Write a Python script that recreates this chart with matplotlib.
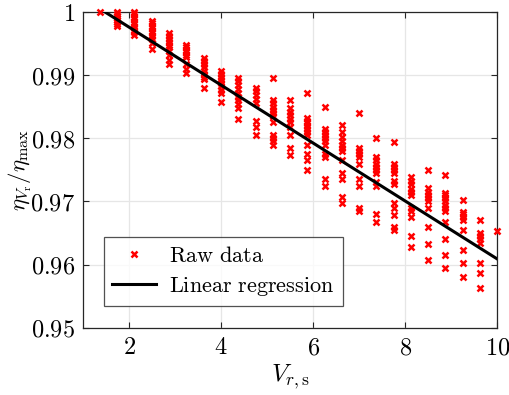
import matplotlib
matplotlib.use("Agg")
import matplotlib.pyplot as plt
import numpy as np

# ---- data ----
vrs = [1.36, 1.74, 2.11, 2.49, 2.86, 3.24, 3.62, 4.00, 4.37, 4.75, 5.12, 5.50,
       5.87, 6.25, 6.62, 7.00, 7.37, 7.75, 8.12, 8.50, 8.87, 9.25, 9.62, 10.00]
eta = [
    [1.0],
    [1.0, 0.9997, 0.9994, 0.9990, 0.9987, 0.9984, 0.9980, 0.9977],
    [1.0, 0.9996, 0.9992, 0.9988, 0.9984, 0.9980, 0.9976, 0.9972, 0.9968, 0.9964],
    [0.9986, 0.9982, 0.9978, 0.9974, 0.9970, 0.9966, 0.9962, 0.9957, 0.9950, 0.9942],
    [0.9967, 0.9962, 0.9957, 0.9952, 0.9948, 0.9944, 0.9938, 0.9932, 0.9924, 0.9917],
    [0.9948, 0.9944, 0.9940, 0.9936, 0.9932, 0.9928, 0.9918, 0.9910, 0.9904],
    [0.9927, 0.9922, 0.9917, 0.9912, 0.9907, 0.9902, 0.9897, 0.9893, 0.9880],
    [0.9907, 0.9902, 0.9897, 0.9892, 0.9887, 0.9882, 0.9877, 0.9872, 0.9858],
    [0.9896, 0.9890, 0.9884, 0.9878, 0.9872, 0.9866, 0.9860, 0.9854, 0.9848, 0.9830],
    [0.9880, 0.9874, 0.9868, 0.9862, 0.9856, 0.9828, 0.9818, 0.9805],
    [0.9895, 0.9860, 0.9855, 0.9850, 0.9845, 0.9840, 0.9835, 0.9826, 0.9805,
     0.9800, 0.9795, 0.9790],
    [0.9860, 0.9848, 0.9842, 0.9836, 0.9830, 0.9825, 0.9818, 0.9805, 0.9785, 0.9774],
    [0.9872, 0.9832, 0.9828, 0.9824, 0.9820, 0.9815, 0.9810, 0.9805, 0.9790,
     0.9775, 0.9765, 0.9750],
    [0.9850, 0.9815, 0.9810, 0.9805, 0.9800, 0.9795, 0.9790, 0.9775, 0.9770,
     0.9735, 0.9725],
    [0.9821, 0.9810, 0.9802, 0.9795, 0.9790, 0.9785, 0.9780, 0.9765, 0.9745,
     0.9735, 0.9707, 0.9697],
    [0.9840, 0.9785, 0.9780, 0.9775, 0.9770, 0.9760, 0.9735, 0.9725, 0.9690, 0.9685],
    [0.9800, 0.9770, 0.9765, 0.9760, 0.9755, 0.9750, 0.9745, 0.9730, 0.9725,
     0.9680, 0.9668],
    [0.9794, 0.9760, 0.9755, 0.9750, 0.9745, 0.9733, 0.9728, 0.9698, 0.9690,
     0.9678, 0.9660, 0.9655],
    [0.9738, 0.9733, 0.9728, 0.9720, 0.9715, 0.9710, 0.9690, 0.9685, 0.9675,
     0.9645, 0.9628],
    [0.9750, 0.9722, 0.9715, 0.9710, 0.9705, 0.9700, 0.9690, 0.9660, 0.9632, 0.9608],
    [0.9742, 0.9714, 0.9710, 0.9705, 0.9700, 0.9695, 0.9690, 0.9685, 0.9668,
     0.9640, 0.9615, 0.9595],
    [0.9703, 0.9684, 0.9680, 0.9675, 0.9670, 0.9655, 0.9623, 0.9603, 0.9581],
    [0.9671, 0.9650, 0.9645, 0.9640, 0.9635, 0.9603, 0.9587, 0.9563],
    [0.9653],
]
fit_x = [1.47, 10.0]
fit_y = [1.0, 0.9609]

xticks = [2, 4, 6, 8, 10]
yticks = [0.95, 0.96, 0.97, 0.98, 0.99, 1.0]
ytick_labels = ["0.95", "0.96", "0.97", "0.98", "0.99", "1"]

# ---- plot ----
plt.rcParams["mathtext.fontset"] = "cm"
plt.rcParams["font.family"] = ["DejaVu Serif"]

fig = plt.figure(figsize=(5.1, 3.95), dpi=100)
ax = fig.add_axes([0.163, 0.170, 0.812, 0.800])

xs = np.concatenate([[x] * len(v) for x, v in zip(vrs, eta)])
ys = np.concatenate(eta)
ax.plot(xs, ys, linestyle="none", marker="x", color="#ff0000",
        markersize=5, markeredgewidth=1.8, label=r"$\mathrm{Raw\ data}$",
        clip_on=False, zorder=3)
ax.plot(fit_x, fit_y, color="black", linewidth=2.2,
        label=r"$\mathrm{Linear\ regression}$", zorder=4)

ax.set_xlim(1, 10)
ax.set_ylim(0.95, 1.0)
ax.set_xticks(xticks)
ax.set_xticklabels([rf"${t}$" for t in xticks])
ax.set_yticks(yticks)
ax.set_yticklabels([rf"${t}$" for t in ytick_labels])
ax.tick_params(direction="in", length=4, width=0.8, colors="#262626",
               labelsize=17.5, top=True, right=True, pad=6)
ax.tick_params(labelcolor="black")
ax.grid(True, color="#e6e6e6", linewidth=0.9)
ax.set_axisbelow(True)
for s in ax.spines.values():
    s.set_color("#262626")
    s.set_linewidth(0.9)

ax.set_xlabel(r"$V_{r,\mathrm{s}}$", fontsize=18, labelpad=2)
ax.set_ylabel(r"$\eta_{V_\mathrm{r}}/\eta_\mathrm{max}$", fontsize=16.5)
ax.yaxis.set_label_coords(-0.118, 0.5)

leg = ax.legend(loc="lower left", bbox_to_anchor=(0.05, 0.07), fontsize=16,
                frameon=True, fancybox=False, edgecolor="#262626",
                borderpad=0.35, handlelength=2.0, handletextpad=0.6,
                labelspacing=0.35, borderaxespad=0)
leg.get_frame().set_linewidth(0.9)

fig.savefig("out.png", dpi=100)
